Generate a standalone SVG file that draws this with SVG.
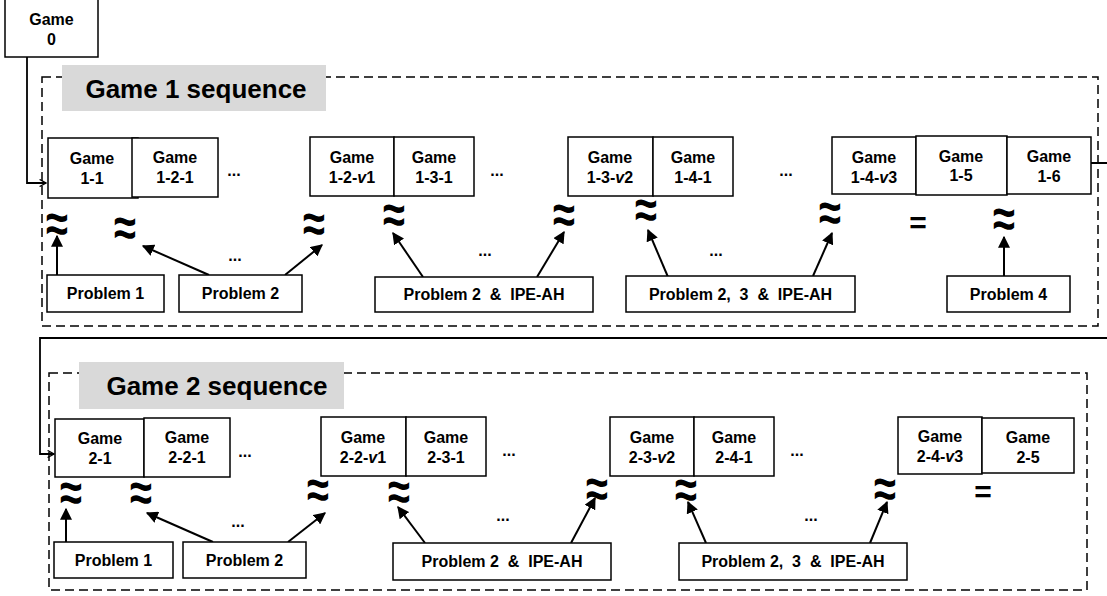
<svg xmlns="http://www.w3.org/2000/svg" width="1107" height="596" viewBox="0 0 1107 596">
<style>
.box{fill:#fff;stroke:#000;stroke-width:1.5}
.dash{fill:none;stroke:#000;stroke-width:1.5;stroke-dasharray:9,5}
.title{fill:#d9d9d9;stroke:none}
.tt{font-family:"Liberation Sans",Arial,sans-serif;font-weight:bold;font-size:26px;text-anchor:middle}
.t{font-family:"Liberation Sans",Arial,sans-serif;font-weight:bold;font-size:16px;text-anchor:middle}
.p{font-family:"Liberation Sans",Arial,sans-serif;font-weight:bold;font-size:16px;text-anchor:middle;white-space:pre}
.ap{font-family:"Liberation Sans",Arial,sans-serif;font-weight:bold;font-size:40px;text-anchor:middle}
.eq{font-family:"Liberation Sans",Arial,sans-serif;font-weight:bold;font-size:30px;text-anchor:middle}
.dots{font-family:"Liberation Sans",Arial,sans-serif;font-weight:bold;font-size:16px;text-anchor:middle}
.conn{fill:none;stroke:#000;stroke-width:1.8}
.arr{fill:none;stroke:#000;stroke-width:2;marker-end:url(#fa)}
</style>
<defs>
<marker id="oa" viewBox="0 0 10 10" refX="9" refY="5" markerWidth="8" markerHeight="8" markerUnits="userSpaceOnUse" orient="auto">
<path d="M1,0.5 L9,5 L1,9.5" fill="none" stroke="#000" stroke-width="1.5"/>
</marker>
<marker id="fa" viewBox="0 0 10 10" refX="9" refY="5" markerWidth="12" markerHeight="12" markerUnits="userSpaceOnUse" orient="auto">
<path d="M0,0 L10,5 L0,10 Z" fill="#000"/>
</marker>
</defs>

<g id="seq1">
<rect class="dash" x="42" y="77" width="1056" height="249"/>
<rect class="title" x="62" y="65" width="264" height="46"/>
<text class="tt" x="196" y="98">Game 1 sequence</text>
</g>
<g id="seq2">
<rect class="dash" x="49" y="373" width="1038" height="217"/>
<rect class="title" x="79" y="362" width="265" height="47"/>
<text class="tt" x="217" y="395">Game 2 sequence</text>
</g>

<g id="connectors">
<path class="conn" d="M27,57 V183 H46" marker-end="url(#oa)"/>
<path class="conn" d="M1091,163 H1112 V338 H40 V454 H54" marker-end="url(#oa)"/>
<line class="arr" x1="57" y1="275" x2="57" y2="236"/>
<line class="arr" x1="209" y1="275" x2="143" y2="246"/>
<line class="arr" x1="285" y1="275" x2="322" y2="245"/>
<line class="arr" x1="423" y1="277" x2="393" y2="233"/>
<line class="arr" x1="537" y1="277" x2="564" y2="232"/>
<line class="arr" x1="668" y1="277" x2="648" y2="230"/>
<line class="arr" x1="813" y1="276" x2="832" y2="233"/>
<line class="arr" x1="1004" y1="276" x2="1004" y2="237"/>
<line class="arr" x1="66" y1="542" x2="66" y2="509"/>
<line class="arr" x1="213" y1="542" x2="147" y2="513"/>
<line class="arr" x1="288" y1="542" x2="325" y2="513"/>
<line class="arr" x1="425" y1="543" x2="398" y2="507"/>
<line class="arr" x1="571" y1="543" x2="595" y2="498"/>
<line class="arr" x1="706" y1="543" x2="688" y2="502"/>
<line class="arr" x1="870" y1="543" x2="887" y2="502"/>
</g>

<g id="game0"><rect class="box" x="5" y="-1" width="93" height="58"/><text class="t" x="51.5" y="25">Game</text><text class="t" x="51.5" y="45">0</text></g>

<g id="g1-1"><rect class="box" x="48" y="138" width="90" height="60"/><text class="t" x="92" y="164">Game</text><text class="t" x="92" y="184">1-1</text></g>
<g id="g1-2-1"><rect class="box" x="132" y="138" width="86" height="59"/><text class="t" x="175" y="163">Game</text><text class="t" x="175" y="183">1-2-1</text></g>
<g id="g1-2-v1"><rect class="box" x="310" y="137" width="84" height="59"/><text class="t" x="352" y="163">Game</text><text class="t" x="352" y="183">1-2-<tspan font-style="italic">v</tspan>1</text></g>
<g id="g1-3-1"><rect class="box" x="394" y="137" width="80" height="59"/><text class="t" x="434" y="163">Game</text><text class="t" x="434" y="183">1-3-1</text></g>
<g id="g1-3-v2"><rect class="box" x="568" y="137" width="85" height="59"/><text class="t" x="610" y="163">Game</text><text class="t" x="610" y="183">1-3-<tspan font-style="italic">v</tspan>2</text></g>
<g id="g1-4-1"><rect class="box" x="653" y="137" width="80" height="59"/><text class="t" x="693" y="163">Game</text><text class="t" x="693" y="183">1-4-1</text></g>
<g id="g1-4-v3"><rect class="box" x="832" y="137" width="84" height="57"/><text class="t" x="874" y="163">Game</text><text class="t" x="874" y="183">1-4-<tspan font-style="italic">v</tspan>3</text></g>
<g id="g1-5"><rect class="box" x="916" y="136" width="91" height="59"/><text class="t" x="961" y="162">Game</text><text class="t" x="961" y="181">1-5</text></g>
<g id="g1-6"><rect class="box" x="1007" y="137" width="84" height="57"/><text class="t" x="1049" y="162">Game</text><text class="t" x="1049" y="182">1-6</text></g>

<g id="p1-1"><rect class="box" x="47" y="275" width="117" height="37"/><text class="p" x="105.5" y="299">Problem 1</text></g>
<g id="p1-2"><rect class="box" x="179" y="275" width="123" height="37"/><text class="p" x="240.5" y="299">Problem 2</text></g>
<g id="p1-3"><rect class="box" x="375" y="277" width="218" height="35"/><text class="p" x="484" y="300" xml:space="preserve">Problem 2  &amp;  IPE-AH</text></g>
<g id="p1-4"><rect class="box" x="626" y="276" width="229" height="36"/><text class="p" x="740.5" y="300" xml:space="preserve">Problem 2,  3  &amp;  IPE-AH</text></g>
<g id="p1-5"><rect class="box" x="947" y="276" width="123" height="36"/><text class="p" x="1008.5" y="300">Problem 4</text></g>

<g id="rel1">
<text class="ap" transform="translate(57 242) scale(1 1.35)">≈</text>
<text class="ap" transform="translate(125 246) scale(1 1.35)">≈</text>
<text class="ap" transform="translate(314 242) scale(1 1.35)">≈</text>
<text class="ap" transform="translate(394 233) scale(1 1.35)">≈</text>
<text class="ap" transform="translate(564 233) scale(1 1.35)">≈</text>
<text class="ap" transform="translate(646 228) scale(1 1.35)">≈</text>
<text class="ap" transform="translate(830 231) scale(1 1.35)">≈</text>
<text class="eq" x="918" y="233">=</text>
<text class="ap" transform="translate(1004 237) scale(1 1.35)">≈</text>
<text class="dots" x="234" y="176">...</text>
<text class="dots" x="497" y="176">...</text>
<text class="dots" x="786" y="176">...</text>
<text class="dots" x="235" y="261">...</text>
<text class="dots" x="485" y="256">...</text>
<text class="dots" x="716" y="256">...</text>
</g>

<g id="g2-1"><rect class="box" x="55" y="419" width="89" height="58"/><text class="t" x="100" y="444">Game</text><text class="t" x="100" y="464">2-1</text></g>
<g id="g2-2-1"><rect class="box" x="144" y="418" width="86" height="59"/><text class="t" x="187" y="443">Game</text><text class="t" x="187" y="463">2-2-1</text></g>
<g id="g2-2-v1"><rect class="box" x="321" y="417" width="85" height="59"/><text class="t" x="363" y="443">Game</text><text class="t" x="363" y="463">2-2-<tspan font-style="italic">v</tspan>1</text></g>
<g id="g2-3-1"><rect class="box" x="406" y="417" width="80" height="59"/><text class="t" x="446" y="443">Game</text><text class="t" x="446" y="463">2-3-1</text></g>
<g id="g2-3-v2"><rect class="box" x="610" y="417" width="84" height="59"/><text class="t" x="652" y="443">Game</text><text class="t" x="652" y="463">2-3-<tspan font-style="italic">v</tspan>2</text></g>
<g id="g2-4-1"><rect class="box" x="694" y="417" width="80" height="59"/><text class="t" x="734" y="443">Game</text><text class="t" x="734" y="463">2-4-1</text></g>
<g id="g2-4-v3"><rect class="box" x="898" y="417" width="84" height="57"/><text class="t" x="940" y="442">Game</text><text class="t" x="940" y="462">2-4-<tspan font-style="italic">v</tspan>3</text></g>
<g id="g2-5"><rect class="box" x="982" y="418" width="92" height="55"/><text class="t" x="1028" y="443">Game</text><text class="t" x="1028" y="463">2-5</text></g>

<g id="p2-1"><rect class="box" x="54" y="542" width="119" height="36"/><text class="p" x="113.5" y="566">Problem 1</text></g>
<g id="p2-2"><rect class="box" x="183" y="542" width="123" height="36"/><text class="p" x="244.5" y="566">Problem 2</text></g>
<g id="p2-3"><rect class="box" x="393" y="543" width="218" height="37"/><text class="p" x="502" y="567" xml:space="preserve">Problem 2  &amp;  IPE-AH</text></g>
<g id="p2-4"><rect class="box" x="679" y="543" width="228" height="37"/><text class="p" x="793" y="567" xml:space="preserve">Problem 2,  3  &amp;  IPE-AH</text></g>

<g id="rel2">
<text class="ap" transform="translate(71 511) scale(1 1.35)">≈</text>
<text class="ap" transform="translate(141 511) scale(1 1.35)">≈</text>
<text class="ap" transform="translate(318 508) scale(1 1.35)">≈</text>
<text class="ap" transform="translate(399 510) scale(1 1.35)">≈</text>
<text class="ap" transform="translate(597 507) scale(1 1.35)">≈</text>
<text class="ap" transform="translate(686 508) scale(1 1.35)">≈</text>
<text class="ap" transform="translate(885 507) scale(1 1.35)">≈</text>
<text class="eq" x="983" y="502">=</text>
<text class="dots" x="245" y="457">...</text>
<text class="dots" x="509" y="456">...</text>
<text class="dots" x="797" y="456">...</text>
<text class="dots" x="238" y="527">...</text>
<text class="dots" x="503" y="521">...</text>
<text class="dots" x="811" y="521">...</text>
</g>
</svg>
